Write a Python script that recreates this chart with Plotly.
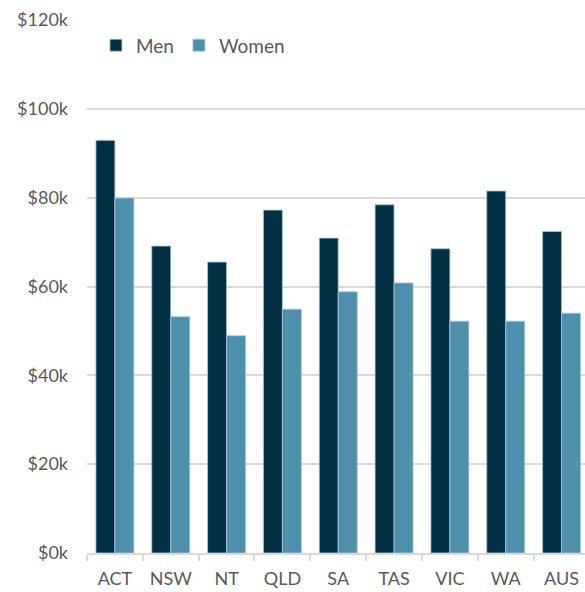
import plotly.graph_objects as go

categories = ["ACT", "NSW", "NT", "QLD", "SA", "TAS", "VIC", "WA", "AUS"]
men = [92900, 69100, 65500, 77200, 70900, 78400, 68500, 81500, 72400]
women = [79900, 53200, 48900, 54900, 58800, 60800, 52200, 52200, 54000]
tick_vals = [0, 20000, 40000, 60000, 80000, 100000, 120000]
tick_text = ["$0k", "$20k", "$40k", "$60k", "$80k", "$100k", "$120k"]

fig = go.Figure()
fig.add_trace(go.Bar(name="Men", x=categories, y=men,
                     marker=dict(color="#033045", line=dict(color="#a9c6d4", width=0.8))))
fig.add_trace(go.Bar(name="Women", x=categories, y=women,
                     marker=dict(color="#4e8fac", line=dict(color="#a9c6d4", width=0.8))))

fig.update_layout(
    width=585, height=592,
    margin=dict(l=87, r=0, t=20, b=39),
    paper_bgcolor="white", plot_bgcolor="white",
    font=dict(family="Lato, 'Open Sans', sans-serif", size=18, color="#595959"),
    barmode="group", bargap=0.32, bargroupgap=0,
    showlegend=True,
    legend=dict(orientation="h", x=0.018, y=0.988, xanchor="left", yanchor="top",
                font=dict(size=19, color="#595959"), bgcolor="rgba(0,0,0,0)",
                itemwidth=30, tracegroupgap=0),
)
fig.update_xaxes(range=[-0.5, 8.42], showgrid=False, showline=True, linecolor="#d9d9d9",
                 linewidth=1.5, ticks="outside", tickson="boundaries", ticklen=6,
                 tickcolor="#d9d9d9", tickwidth=1.5, tickfont=dict(size=18, color="#595959"),
                 ticklabelstandoff=9, automargin=False, fixedrange=True)
fig.update_yaxes(range=[0, 120000], tickvals=tick_vals, ticktext=tick_text,
                 showgrid=True, gridcolor="#d9d9d9", gridwidth=1.5, zeroline=False,
                 showline=False, ticks="", ticklabelstandoff=18, automargin=False,
                 tickfont=dict(size=18, color="#595959"), fixedrange=True)

fig.write_html("out.html", config={"displayModeBar": False},
               post_script="document.body.style.margin='0';")
